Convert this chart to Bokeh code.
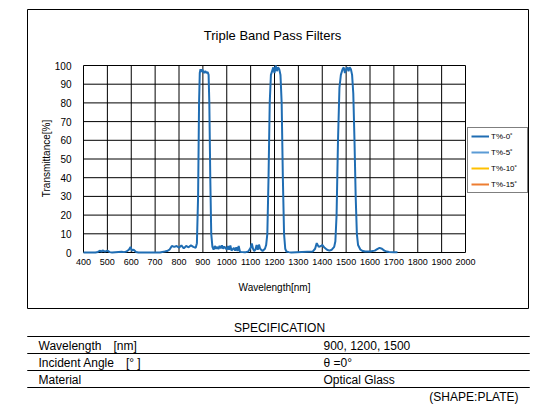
from bokeh.plotting import figure
from bokeh.models import (Range1d, FixedTicker, Label, BoxAnnotation, Legend, LegendItem, LinearAxis)
from bokeh.embed import file_html
from bokeh.resources import INLINE

# ---------------- data ----------------
wavelength_0 = [400, 450, 460, 470, 475, 480, 490, 500, 510, 520, 560, 570, 580, 590, 597, 603, 610, 620,
                630, 720, 730, 740, 750, 760, 770, 780, 790, 800, 810, 820, 830, 840, 850, 860, 870, 875,
                880, 884, 887, 890, 893, 897, 900, 905, 910, 915, 920, 924, 927, 931, 935, 940, 945, 950,
                955, 960, 965, 970, 975, 980, 985, 990, 1000, 1005, 1010, 1015, 1020, 1030, 1035, 1040,
                1045, 1050, 1055, 1060, 1070, 1080, 1090, 1100, 1105, 1110, 1115, 1120, 1125, 1130, 1135,
                1140, 1150, 1160, 1165, 1170, 1175, 1180, 1185, 1190, 1195, 1200, 1205, 1210, 1215, 1220,
                1225, 1230, 1235, 1240, 1245, 1250, 1260, 1270, 1360, 1370, 1377, 1385, 1395, 1400, 1410,
                1420, 1430, 1440, 1450, 1455, 1460, 1466, 1472, 1478, 1485, 1490, 1495, 1500, 1505, 1510,
                1515, 1520, 1525, 1530, 1535, 1540, 1545, 1550, 1560, 1570, 1580, 1600, 1620, 1630, 1640,
                1650, 1660, 1670, 1680, 1700, 1715]
trans_0 = [0.0, 0.0, 0.3, 1.0, 0.3, 1.2, 0.5, 1.0, 0.2, 0.0, 0.4, 0.2, 0.5, 1.5, 3.0, 1.0, 1.5, 0.3,
           0.0, 0.0, 0.3, 0.5, 0.8, 1.5, 3.5, 3.0, 3.5, 2.5, 3.8, 2.2, 3.5, 2.8, 3.8, 3.0, 2.5, 5.0,
           30.0, 80.0, 96.0, 98.0, 96.5, 98.0, 97.0, 96.0, 97.0, 96.0, 96.5, 95.0, 80.0, 40.0, 10.0, 3.0, 1.5, 3.5,
           2.0, 3.0, 1.8, 3.5, 2.2, 3.8, 2.0, 3.2, 1.5, 3.5, 1.5, 3.8, 1.0, 2.5, 1.0, 2.8,
           0.8, 3.5, 0.5, 0.3, 0.2, 0.2, 0.5, 2.5, 4.8, 2.0, 0.8, 1.5, 4.0, 1.5, 4.2,
           2.0, 0.8, 2.0, 4.0, 10.0, 40.0, 80.0, 95.0, 97.0, 99.0, 96.0, 100.0, 97.0, 99.0, 98.0,
           95.0, 80.0, 40.0, 10.0, 2.0, 0.5, 0.2, 0.0, 0.5, 2.0, 5.0, 3.0, 3.5, 4.0, 2.5,
           1.5, 1.0, 1.5, 3.0, 6.0, 20.0, 60.0, 88.0, 95.0, 98.0, 99.0, 96.0, 98.0, 99.0, 97.0,
           99.0, 98.0, 95.0, 85.0, 60.0, 30.0, 10.0, 4.0, 1.5, 0.8, 0.5, 0.5, 1.0, 1.8, 2.5,
           2.0, 1.0, 0.5, 0.3, 0.2, 0.1]
# the other incidence angles show no visible curve in the reference
wavelength_5 = [float("nan")]
trans_5 = [float("nan")]
wavelength_10 = [float("nan")]
trans_10 = [float("nan")]
wavelength_15 = [float("nan")]
trans_15 = [float("nan")]

series_labels = ["T%-0\u02da", "T%-5\u02da", "T%-10\u02da", "T%-15\u02da"]
series_colors = ["#1f6db3", "#5b9bd5", "#ffc000", "#ed7d31"]

x_ticks = list(range(400, 2001, 100))
y_ticks = list(range(0, 101, 10))
x_min, x_max = 400, 2000
y_min, y_max = 0, 100

title_text = "Triple Band Pass Filters"
x_label = "Wavelength[nm]"
y_label = "Transmittance[%]"

spec_title = "SPECIFICATION"
spec_rows = [("Wavelength\u3000[nm]", "900,  1200,  1500"),
             ("Incident Angle\u3000[\u00b0  ]", "\u03b8 =0\u00b0"),
             ("Material", "Optical Glass")]
shape_note = "(SHAPE:PLATE)"

FONT = "Liberation Sans"

# ---------------- layout (page pixels) ----------------
W, H = 552, 408
FL, FR, FT, FB = 83, 465, 65, 252          # plot-area edges in page pixels
sxu = (x_max - x_min) / (FR - FL)
syu = (y_max - y_min) / (FB - FT)
xr = Range1d(x_min - FL * sxu, x_max + (W - FR) * sxu)
yr = Range1d(y_min - (H - FB) * syu, y_max + FT * syu)

p = figure(width=W, height=H, output_backend="svg", toolbar_location=None,
           x_range=xr, y_range=yr, min_border=0,
           x_axis_location=None, y_axis_location=None)
p.background_fill_color = "white"
p.border_fill_color = "white"
p.outline_line_color = None
p.grid.visible = False

xaxis = LinearAxis(fixed_location=y_min, bounds=(x_min, x_max), ticker=FixedTicker(ticks=x_ticks))
yaxis = LinearAxis(fixed_location=x_min, bounds=(y_min, y_max), ticker=FixedTicker(ticks=y_ticks))
for ax in (xaxis, yaxis):
    ax.axis_line_color = None
    ax.major_tick_line_color = None
    ax.minor_tick_line_color = None
    ax.major_tick_out = 0
    ax.major_tick_in = 0
    ax.major_label_text_font = FONT
    ax.major_label_text_color = "black"
xaxis.major_label_text_font_size = "9px"
yaxis.major_label_text_font_size = "10px"
xaxis.major_label_standoff = 6
yaxis.major_label_standoff = 12
p.add_layout(xaxis, "below")
p.add_layout(yaxis, "left")

# grid lines + plot-area outline
p.segment(x0=x_ticks, y0=[y_min] * len(x_ticks), x1=x_ticks, y1=[y_max] * len(x_ticks),
          line_color="black", line_width=1)
p.segment(x0=[x_min] * len(y_ticks), y0=y_ticks, x1=[x_max] * len(y_ticks), y1=y_ticks,
          line_color="black", line_width=1)

r0 = p.line(wavelength_0, trans_0, line_color=series_colors[0], line_width=2)
r5 = p.line(wavelength_5, trans_5, line_color=series_colors[1], line_width=2)
r10 = p.line(wavelength_10, trans_10, line_color=series_colors[2], line_width=2)
r15 = p.line(wavelength_15, trans_15, line_color=series_colors[3], line_width=2)


def sx(x):
    return x


def sy(y):
    return H - y


legend = Legend(items=[LegendItem(label=series_labels[i], renderers=[r])
                       for i, r in enumerate([r0, r5, r10, r15])],
                location=(467, sy(193)))
legend.label_text_font = FONT
legend.label_text_font_size = "8px"
legend.label_text_color = "black"
legend.glyph_width = 18
legend.glyph_height = 10
legend.label_height = 10
legend.label_width = 33
legend.label_standoff = 2
legend.spacing = 6
legend.padding = 3
legend.margin = 0
legend.border_line_color = "black"
legend.border_line_width = 1
legend.background_fill_color = "white"
legend.background_fill_alpha = 1.0
p.add_layout(legend)


def hbox(left, right, top, bottom):
    return BoxAnnotation(left=sx(left), right=sx(right), top=sy(top), bottom=sy(bottom),
                         left_units="screen", right_units="screen",
                         top_units="screen", bottom_units="screen",
                         fill_alpha=0, line_color="black", line_width=1, line_alpha=1)


def label(x, y, text, align="left", size="12px", angle=0):
    return Label(x=sx(x), y=sy(y), x_units="screen", y_units="screen", text=text,
                 text_align=align, text_baseline="middle", text_font=FONT,
                 text_font_size=size, text_color="black", angle=angle)


# outer box
p.add_layout(hbox(27, 528, 9, 308))
p.add_layout(label(272, 35, title_text, "center", "13px"))
p.add_layout(label(274, 287, x_label, "center", "10px"))
p.add_layout(label(46, 158, y_label, "center", "10px", angle=1.5707963))

# specification table
p.add_layout(label(279, 327, spec_title, "center"))
for ly in [336, 353, 370, 387]:
    p.add_layout(hbox(27, 529, ly, ly))
for (lab, val), ry in zip(spec_rows, [345, 362, 379]):
    p.add_layout(label(38, ry, lab))
    p.add_layout(label(323, ry, val))
p.add_layout(label(518, 396, shape_note, "right"))

open("out.html", "w").write(file_html(p, INLINE))
